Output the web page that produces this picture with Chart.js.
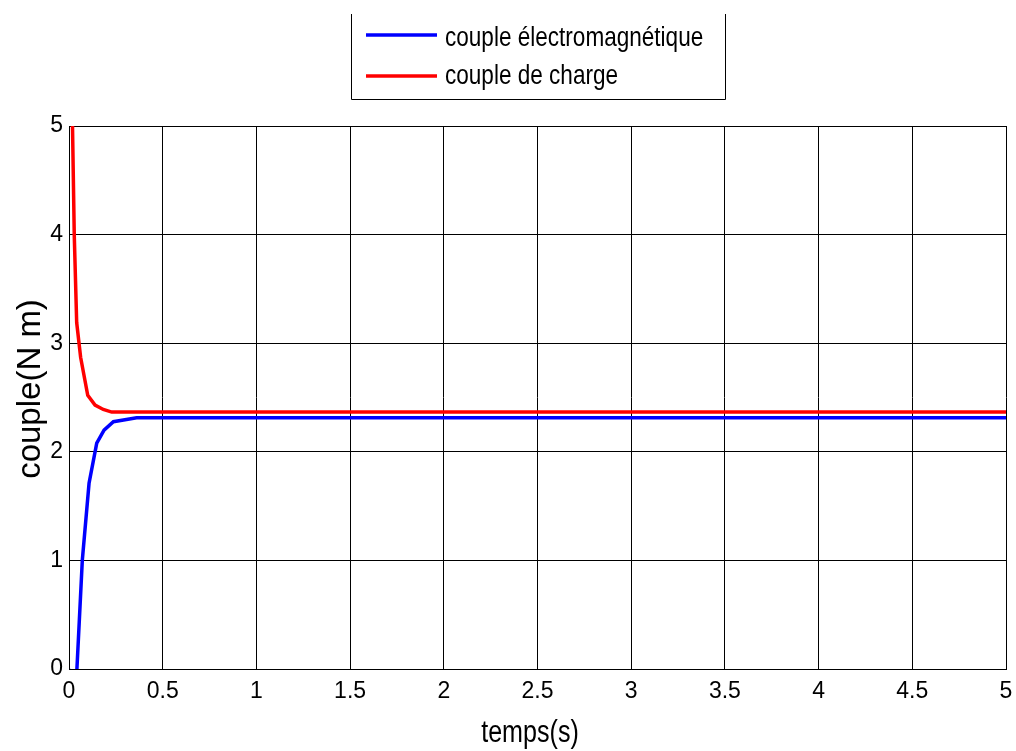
<!DOCTYPE html>
<html>
<head>
<meta charset="utf-8">
<script src="https://cdn.jsdelivr.net/npm/chart.js@4.4.1/dist/chart.umd.min.js"></script>
<style>
  html, body { margin: 0; padding: 0; background: #fff; }
  #wrap { width: 1016px; height: 751px; }
</style>
</head>
<body>
<div id="wrap"><canvas id="torque"></canvas></div>
<script>
/* --------------- Data --------------------------------------- */
const seriesNames = ["couple électromagnétique", "couple de charge"];
const seriesColors = ["rgb(0, 0, 255)", "rgb(255, 0, 0)"];

// couple électromagnétique (blue)
const emTime = [0, 0.025, 0.071, 0.107, 0.148, 0.187, 0.237, 0.361, 5];
const emValue = [0, -0.6, 1.0, 1.71, 2.08, 2.2, 2.277, 2.314, 2.314];

// couple de charge (red)
const loadTime = [0, 0.028, 0.041, 0.062, 0.1, 0.139, 0.183, 0.228, 5];
const loadValue = [7, 4.0, 3.19, 2.87, 2.52, 2.43, 2.39, 2.366, 2.366];

const xTicks = [0, 0.5, 1, 1.5, 2, 2.5, 3, 3.5, 4, 4.5, 5];
const yTicks = [0, 1, 2, 3, 4, 5];

const FONT = "'Liberation Sans', Arial, sans-serif";

const toPoints = (xs, ys) => xs.map((x, i) => ({ x: x, y: ys[i] }));

// the figure's text is a bit narrower than Arial, squeeze it sideways
function narrowText(ctx, txt, x, y, size, squeeze, align) {
  ctx.save();
  ctx.translate(x, y);
  ctx.scale(squeeze, 1);
  ctx.font = size + "px " + FONT;
  ctx.textAlign = align;
  ctx.textBaseline = "alphabetic";
  ctx.fillStyle = "#000";
  ctx.fillText(txt, 0, 0);
  ctx.restore();
}

/* --------------- Legend box + axis titles, drawn like the figure --------------------- */
const figureExtras = {
  id: "figureExtras",
  afterDraw(chart) {
    const ctx = chart.ctx;
    ctx.save();

    // legend frame (top edge is cut off in the original)
    ctx.strokeStyle = "#000";
    ctx.lineWidth = 1;
    ctx.beginPath();
    ctx.moveTo(351.5, 14);
    ctx.lineTo(351.5, 99.5);
    ctx.lineTo(725.5, 99.5);
    ctx.lineTo(725.5, 14);
    ctx.stroke();

    const lineY = [35, 76];
    const textY = [46, 84];
    seriesNames.forEach((name, i) => {
      ctx.strokeStyle = seriesColors[i];
      ctx.lineWidth = 3.5;
      ctx.beginPath();
      ctx.moveTo(366, lineY[i]);
      ctx.lineTo(437, lineY[i]);
      ctx.stroke();
      narrowText(ctx, name, 445, textY[i], 27.5, 0.82, "left");
    });

    // x axis title
    narrowText(ctx, "temps(s)", 530, 742, 31, 0.81, "center");

    // y axis title
    ctx.translate(40, 389);
    ctx.rotate(-Math.PI / 2);
    ctx.font = "33px " + FONT;
    ctx.textAlign = "center";
    ctx.textBaseline = "alphabetic";
    ctx.fillStyle = "#000";
    ctx.fillText("couple(N m)", 0, 0);
    ctx.restore();
  },
};

/* --------------- Chart --------------------- */
new Chart(document.getElementById("torque"), {
  type: "line",
  data: {
    datasets: [
      {
        label: seriesNames[0],
        data: toPoints(emTime, emValue),
        borderColor: seriesColors[0],
        borderWidth: 3.5,
        pointRadius: 0,
        tension: 0,
      },
      {
        label: seriesNames[1],
        data: toPoints(loadTime, loadValue),
        borderColor: seriesColors[1],
        borderWidth: 3.5,
        pointRadius: 0,
        tension: 0,
      },
    ],
  },
  plugins: [figureExtras],
  options: {
    responsive: true,
    maintainAspectRatio: false,
    animation: false,
    layout: { padding: { top: 126, right: 10, left: 0, bottom: 0 } },
    plugins: {
      legend: { display: false },
      tooltip: { enabled: false },
    },
    scales: {
      x: {
        type: "linear",
        min: 0,
        max: 5,
        afterFit: (scale) => {
          scale.height = 82;
          scale.paddingLeft = 0;
          scale.paddingRight = 0;
        },
        afterBuildTicks: (scale) => { scale.ticks = xTicks.map((v) => ({ value: v })); },
        grid: { color: "#000", lineWidth: 1, drawTicks: false },
        border: { color: "#000", width: 1 },
        ticks: {
          padding: 9,
          color: "#000",
          maxRotation: 0,
          autoSkip: false,
          font: { family: FONT, size: 23 },
          callback: (v) => String(v),
        },
      },
      y: {
        min: 0,
        max: 5,
        afterFit: (scale) => {
          scale.width = 69;
          scale.paddingTop = 0;
          scale.paddingBottom = 0;
        },
        afterBuildTicks: (scale) => { scale.ticks = yTicks.map((v) => ({ value: v })); },
        grid: { color: "#000", lineWidth: 1, drawTicks: false },
        border: { color: "#000", width: 1 },
        ticks: {
          padding: 6,
          color: "#000",
          font: { family: FONT, size: 23 },
          callback: (v) => String(v),
        },
      },
    },
  },
});
</script>
</body>
</html>
